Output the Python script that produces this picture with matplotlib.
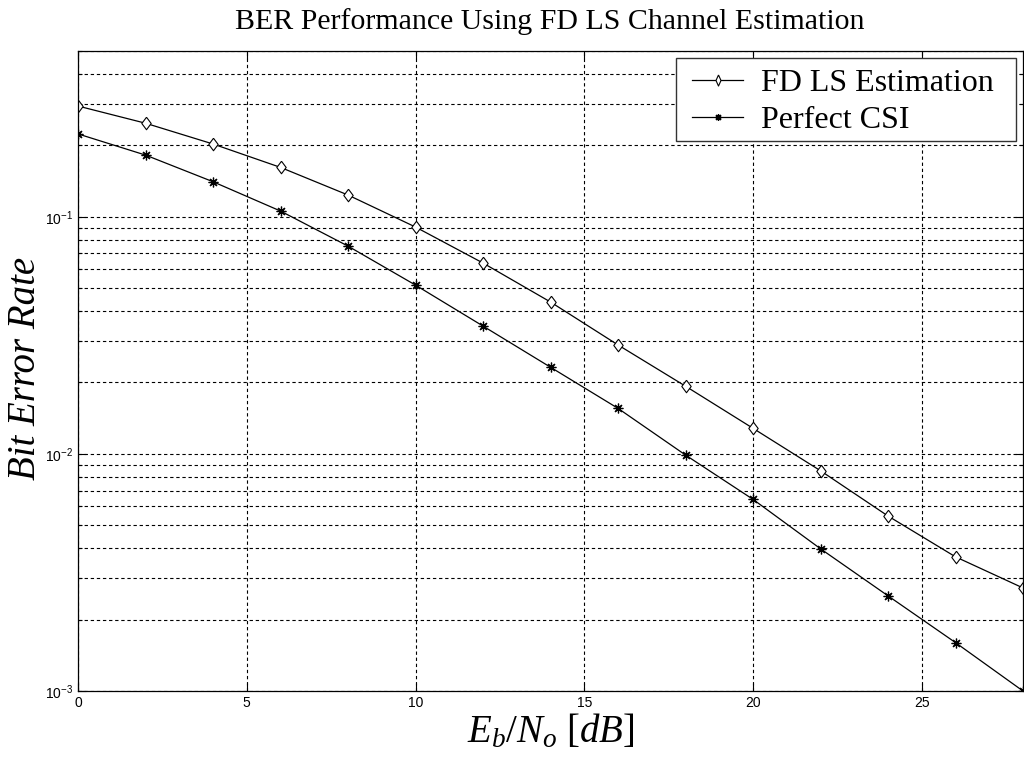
import numpy as np
import matplotlib
matplotlib.use("Agg")
import matplotlib.pyplot as plt
from matplotlib.patches import Rectangle
from matplotlib.ticker import LogLocator, FixedLocator

# Eb/No in dB
ebno_db = [0, 2, 4, 6, 8, 10, 12, 14, 16, 18, 20, 22, 24, 26, 28]
ber_fd_ls = [0.293, 0.248, 0.2027, 0.1615, 0.1235, 0.0905, 0.0638, 0.0437,
             0.0288, 0.0193, 0.01282, 0.00849, 0.00547, 0.00368, 0.00272]
ber_perfect = [0.2235, 0.182, 0.1405, 0.1057, 0.0752, 0.0515, 0.0346, 0.0232,
               0.01556, 0.00989, 0.00643, 0.00398, 0.00252, 0.0016, 0.001]
x_ticks = [0, 5, 10, 15, 20, 25]

W, H = 1024, 769

plt.rcParams["mathtext.fontset"] = "custom"
plt.rcParams["mathtext.rm"] = "Liberation Serif"
plt.rcParams["mathtext.it"] = "Liberation Serif:italic"

# matlab-ish markers
diamond = [(0, 1), (0.75, 0), (0, -1), (-0.75, 0), (0, 1)]
slim_diamond = [(0, 1), (0.45, 0), (0, -1), (-0.45, 0), (0, 1)]
asterisk = (8, 2, 0)

fig = plt.figure(figsize=(W / 100, H / 100), dpi=100)
ax = fig.add_axes([78 / W, 1 - 691 / H, (1023 - 78) / W, (691 - 51) / H])

ax.semilogy(ebno_db, ber_fd_ls, color="black", lw=0.9, marker=diamond,
            markersize=9, markerfacecolor="white", markeredgewidth=0.8,
            label="FD LS Estimation")
ax.semilogy(ebno_db, ber_perfect, color="black", lw=0.9, marker=asterisk,
            markersize=7, markeredgewidth=0.9, label="Perfect CSI")

ax.set_xlim(0, 28)
ax.set_ylim(1e-3, 0.5)
ax.xaxis.set_major_locator(FixedLocator(x_ticks))
ax.yaxis.set_major_locator(LogLocator(base=10))
ax.yaxis.set_minor_locator(LogLocator(base=10, subs=np.arange(2, 10)))

grid_style = dict(color="black", linestyle=(0, (3, 2.5)), linewidth=0.8)
ax.grid(True, which="major", **grid_style)
ax.grid(True, which="minor", axis="y", **grid_style)

ax.tick_params(which="both", direction="in", top=True, right=True,
               labelsize=10, width=0.8)
ax.tick_params(which="major", length=6)
ax.tick_params(which="minor", length=3)
for lab in ax.get_xticklabels() + ax.get_yticklabels():
    lab.set_family("Liberation Sans")
for s in ax.spines.values():
    s.set_linewidth(0.9)

fig.text(550 / W, 1 - 22 / H, "BER Performance Using FD LS Channel Estimation",
         family="Liberation Serif", fontsize=21.5, ha="center", va="center")
fig.text(26 / W, 1 - 368 / H, "Bit Error Rate", family="Liberation Serif",
         style="italic", fontsize=28, rotation=90, ha="center", va="center")
ax.set_xlabel(r"$E_b/N_o\ [dB]$", fontsize=28, labelpad=1)

# legend box drawn by hand (matlab pads it wider than tall)
box = Rectangle((676 / W, 1 - 141 / H), (1016 - 676) / W, (141 - 58) / H,
                transform=fig.transFigure, facecolor="white",
                edgecolor="#333333", linewidth=1.0, zorder=4.9)
ax.add_artist(box)
box.set_clip_on(False)

leg = ax.legend(loc="upper left", bbox_to_anchor=(692 / W, 1 - 69 / H),
                bbox_transform=fig.transFigure,
                prop={"family": "Liberation Serif", "size": 23},
                frameon=False, handlelength=1.6, handletextpad=0.55,
                borderaxespad=0, labelspacing=0.22, borderpad=0)
hl = leg.legend_handles
hl[0].set_marker(slim_diamond)
hl[0].set_markersize(8)
hl[1].set_markersize(5)

fig.savefig("out.png", dpi=100)
